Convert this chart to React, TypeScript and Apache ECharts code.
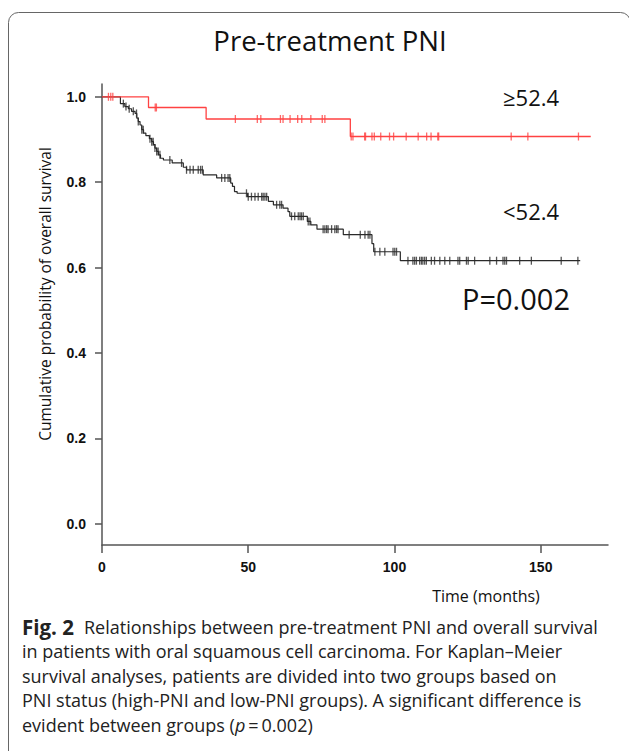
import React, { useEffect, useRef } from "react";
import * as echarts from "echarts";

const xTicks = [0, 50, 100, 150];
const yTicks = [0, 0.2, 0.4, 0.6, 0.8, 1.0];

// High PNI group (>=52.4): event times and survival after each step
const highTimes = [0, 15.9, 35.6, 84.9, 167.1];
const highSurv = [1.0, 0.975, 0.948, 0.907, 0.907];
const highCensor = [2.2, 3.0, 3.7, 18.2, 18.6, 45.6, 53.1, 54.3, 61.0, 61.9, 64.3, 66.9, 68.3, 71.4, 75.3, 76.2, 85.2, 85.8, 89.8, 90.1, 92.3, 93.1, 95.3, 98.3, 99.7, 104.0, 108.1, 111.0, 112.5, 114.8, 115.1, 139.9, 145.6, 162.9];

// Low PNI group (<52.4)
const lowTimes = [0, 6.3, 7.8, 9.0, 10.1, 11.3, 11.9, 12.4, 13.0, 13.6, 14.2, 15.0, 16.2, 17.0, 17.6, 18.1, 18.7, 19.3, 20.0, 21.0, 24.0, 27.8, 28.9, 34.6, 39.2, 44.0, 44.6, 45.3, 46.2, 49.7, 56.9, 58.6, 61.9, 63.6, 64.2, 70.2, 71.4, 73.5, 82.5, 92.3, 92.9, 102.0, 163.5];
const lowSurv = [1.0, 0.984, 0.977, 0.972, 0.966, 0.961, 0.950, 0.942, 0.934, 0.923, 0.915, 0.909, 0.902, 0.895, 0.888, 0.880, 0.872, 0.864, 0.856, 0.852, 0.845, 0.835, 0.829, 0.817, 0.810, 0.798, 0.790, 0.778, 0.774, 0.766, 0.755, 0.747, 0.739, 0.731, 0.720, 0.708, 0.700, 0.690, 0.677, 0.656, 0.637, 0.616, 0.616];
const lowCensor = [7.3, 8.2, 9.3, 10.7, 11.8, 12.4, 13.6, 14.1, 16.4, 17.0, 17.5, 18.1, 18.7, 19.2, 19.8, 23.2, 27.2, 28.9, 30.1, 31.2, 32.9, 33.7, 34.3, 40.9, 42.0, 43.1, 43.7, 49.4, 50.0, 51.1, 52.3, 53.4, 54.6, 55.1, 55.7, 56.3, 59.7, 60.8, 61.4, 64.8, 65.9, 67.1, 67.7, 68.2, 68.8, 70.5, 71.1, 75.6, 76.2, 76.8, 77.3, 78.5, 79.6, 80.2, 80.7, 84.5, 88.3, 89.9, 91.0, 91.6, 93.3, 95.0, 96.7, 99.5, 100.1, 100.7, 104.6, 106.3, 106.9, 107.5, 108.6, 109.2, 109.7, 110.3, 110.9, 112.6, 113.7, 115.5, 117.2, 118.9, 121.7, 122.3, 124.6, 125.2, 127.4, 132.6, 134.9, 137.1, 137.7, 138.3, 142.8, 146.8, 157.0, 162.7];

const titleText = "Pre-treatment PNI";
const highLabel = "≥52.4";
const lowLabel = "<52.4";
const pText = "P=0.002";
const yName = "Cumulative probability of overall survival";
const xName = "Time (months)";
const captionLines = [
  "{b|Fig. 2}Relationships between pre-treatment PNI and overall survival",
  "in patients with oral squamous cell carcinoma. For Kaplan–Meier",
  "survival analyses, patients are divided into two groups based on",
  "PNI status (high-PNI and low-PNI groups). A significant difference is",
  "evident between groups ({i|p}\u2009=\u20090.002)",
];

function levelAt(times: number[], surv: number[], t: number) {
  let s = surv[0];
  for (let i = 0; i < times.length; i++) {
    if (times[i] <= t) s = surv[i];
  }
  return s;
}

const FONT = "'Open Sans', 'Noto Sans', sans-serif";
const BLACK = "#2a2a2a";
const RED = "#ff4242";

export default function App() {
  const ref = useRef<HTMLDivElement>(null);
  useEffect(() => {
    if (!ref.current) return;
    const chart = echarts.init(ref.current, null, { renderer: "svg" });
    const tickLabelStyle = {
      color: "#111",
      fontWeight: "bold",
      fontSize: 14,
      fontFamily: "'Liberation Sans', Arial, sans-serif",
    };
    const option: any = {
      animation: false,
      backgroundColor: "#fff",
      grid: { left: 102, right: 21, top: 84, bottom: 206, containLabel: false },
      xAxis: {
        type: "value",
        min: 0,
        max: 173,
        splitLine: { show: false },
        axisLine: { show: true, onZero: false, lineStyle: { color: "#555", width: 1.5 } },
        axisTick: { show: true, customValues: xTicks, length: 8, lineStyle: { color: "#555", width: 1.5 } },
        axisLabel: { ...tickLabelStyle, customValues: xTicks, margin: 15 },
      },
      yAxis: {
        type: "value",
        min: -0.05,
        max: 1.03,
        splitLine: { show: false },
        axisLine: { show: true, onZero: false, lineStyle: { color: "#555", width: 1.5 } },
        axisTick: { show: true, customValues: yTicks, length: 7, lineStyle: { color: "#555", width: 1.5 } },
        axisLabel: {
          ...tickLabelStyle,
          customValues: yTicks,
          margin: 16,
          formatter: (v: number) => v.toFixed(1),
        },
      },
      series: [
        {
          type: "line",
          step: "end",
          symbol: "none",
          silent: true,
          data: lowTimes.map((t, i) => [t, lowSurv[i]]),
          lineStyle: { color: BLACK, width: 1.2 },
          z: 2,
        },
        {
          type: "scatter",
          silent: true,
          symbol: "rect",
          symbolSize: [1.3, 8],
          data: lowCensor.map((t) => [t, levelAt(lowTimes, lowSurv, t)]),
          itemStyle: { color: BLACK },
          z: 3,
        },
        {
          type: "line",
          step: "end",
          symbol: "none",
          silent: true,
          data: highTimes.map((t, i) => [t, highSurv[i]]),
          lineStyle: { color: RED, width: 1.3 },
          z: 4,
        },
        {
          type: "scatter",
          silent: true,
          symbol: "rect",
          symbolSize: [1.3, 8],
          data: highCensor.map((t) => [t, levelAt(highTimes, highSurv, t)]),
          itemStyle: { color: RED },
          z: 5,
        },
      ],
      graphic: [
        {
          type: "rect",
          silent: true,
          z: -10,
          shape: { x: 8.5, y: 12.5, width: 622, height: 900, r: 10 },
          style: { fill: "none", stroke: "#666", lineWidth: 1 },
        },
        {
          type: "text",
          x: 330,
          y: 40,
          style: { text: titleText, fontSize: 27.5, fontFamily: FONT, fill: "#111", align: "center", verticalAlign: "middle" },
        },
        {
          type: "text",
          x: 503,
          y: 97,
          style: { text: highLabel, fontSize: 22, fontFamily: FONT, fill: "#111", align: "left", verticalAlign: "middle" },
        },
        {
          type: "text",
          x: 503,
          y: 211,
          style: { text: lowLabel, fontSize: 22, fontFamily: FONT, fill: "#111", align: "left", verticalAlign: "middle" },
        },
        {
          type: "text",
          x: 462,
          y: 298,
          style: { text: pText, fontSize: 29, fontFamily: FONT, fill: "#111", align: "left", verticalAlign: "middle" },
        },
        {
          type: "text",
          x: 45,
          y: 294,
          rotation: Math.PI / 2,
          style: { text: yName, fontSize: 15.5, fontFamily: FONT, fill: "#111", align: "center", verticalAlign: "middle" },
        },
        {
          type: "text",
          x: 486,
          y: 596,
          style: { text: xName, fontSize: 16, fontFamily: FONT, fill: "#111", align: "center", verticalAlign: "middle" },
        },
        ...captionLines.map((line, i) => ({
          type: "text",
          x: 22,
          y: 627 + i * 24.4,
          style: {
            text: line,
            fontSize: 18,
            fontFamily: FONT,
            fill: "#222",
            align: "left",
            verticalAlign: "middle",
            rich: {
              b: { fontSize: 20.5, fontWeight: "bold", fontFamily: FONT, fill: "#222", padding: [0, 10, 0, 0] },
              i: { fontSize: 18, fontStyle: "italic", fontFamily: FONT, fill: "#222" },
            },
          },
        })),
      ],
    };
    chart.setOption(option);
    return () => chart.dispose();
  }, []);
  return (
    <div
      ref={ref}
      style={{ position: "absolute", left: 0, top: 0, width: 629, height: 751, background: "#fff" }}
    />
  );
}
